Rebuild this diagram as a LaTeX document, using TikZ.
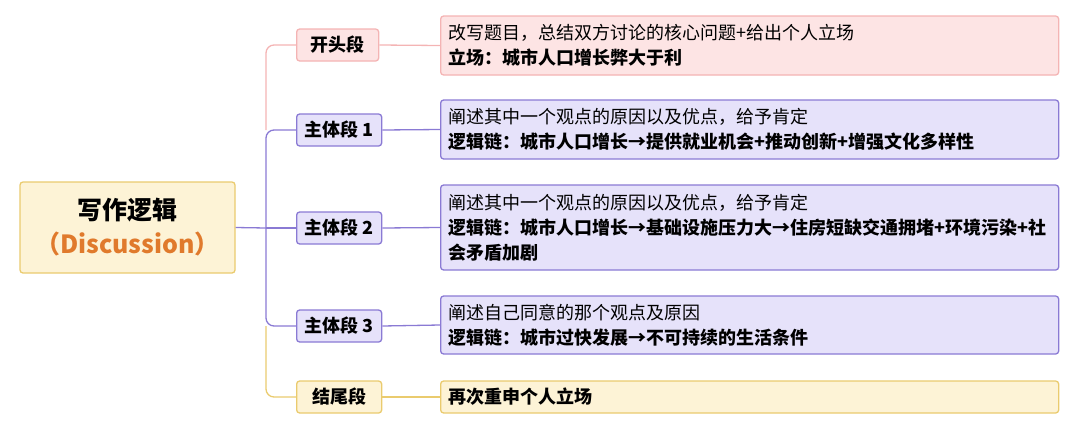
\documentclass[tikz,border=0pt]{standalone}
\usepackage{fontspec}
\setmainfont{Noto Sans CJK SC}
\begin{document}
\begin{tikzpicture}[x=1pt,y=-1pt,
  pinkb/.style={draw=pinkD,fill=pinkL,line width=1.3pt,rounded corners=3pt},
  purpb/.style={draw=purpD,fill=purpL,line width=1.3pt,rounded corners=3pt},
  yelb/.style={draw=yelD,fill=yelL,line width=1.3pt,rounded corners=3pt},
  br/.style={minimum width=85pt,minimum height=32pt,inner sep=0pt,font=\fontsize{18}{20}\selectfont\bfseries,anchor=west},
  ct/.style={inner xsep=8pt,inner ysep=0pt,anchor=west,text width=602pt,align=left,font=\fontsize{18}{25}\selectfont},
  ln/.style={line width=1.3pt,rounded corners=8pt}]
\definecolor{pinkD}{HTML}{F4B4B4}\definecolor{pinkL}{HTML}{FDE4E4}
\definecolor{purpD}{HTML}{8A7AD4}\definecolor{purpL}{HTML}{E6E2FA}
\definecolor{yelD}{HTML}{EACB6E}\definecolor{yelL}{HTML}{FDF3D6}
\definecolor{orgT}{HTML}{E07A2C}
\useasboundingbox (0,0) rectangle (1080,432);
\node[yelb,minimum width=215pt,minimum height=91pt,inner sep=0pt,align=center,font=\fontsize{25}{34}\selectfont\bfseries] (root) at (127.5,227.5) {写作逻辑\\\textcolor{orgT}{（Discussion）}};
\node[pinkb,br,minimum width=82pt] (b1) at (296,45) {开头段};
\node[purpb,br] (b2) at (296,130) {主体段 1};
\node[purpb,br] (b3) at (296,228) {主体段 2};
\node[purpb,br] (b4) at (296,326) {主体段 3};
\node[yelb,br] (b5) at (296,397) {结尾段};
\node[pinkb,ct,minimum height=59pt] (c1) at (440,45.5) {改写题目，总结双方讨论的核心问题+给出个人立场\\\textbf{立场：城市人口增长弊大于利}};
\node[purpb,ct,minimum height=59pt] (c2) at (440,129.5) {阐述其中一个观点的原因以及优点，给予肯定\\\textbf{逻辑链：城市人口增长→提供就业机会+推动创新+增强文化多样性}};
\node[purpb,ct,minimum height=85pt] (c3) at (440,227.5) {阐述其中一个观点的原因以及优点，给予肯定\\\textbf{逻辑链：城市人口增长→基础设施压力大→住房短缺交通拥堵+环境污染+社\\会矛盾加剧}};
\node[purpb,ct,minimum height=58pt] (c4) at (440,325) {阐述自己同意的那个观点及原因\\\textbf{逻辑链：城市过快发展→不可持续的生活条件}};
\node[yelb,ct,minimum height=32pt,font=\fontsize{18}{20}\selectfont\bfseries] (c5) at (440,397) {再次重申个人立场};
\coordinate (t) at (266,228);
\draw[purpD,line width=1.3pt] (root.east) -- (t);
\draw[ln,pinkD] (b1.west) -| (266,130);
\draw[ln,purpD] (b2.west) -| (t);
\draw[ln,purpD] (b4.west) -| (t);
\draw[purpD,line width=1.3pt] (b3.west) -- (t);
\draw[ln,yelD] (b5.west) -| (266,326);
\draw[pinkD,line width=1.3pt] (b1.east) -- (c1.west);
\draw[purpD,line width=1.3pt] (b2.east) -- (c2.west);
\draw[purpD,line width=1.3pt] (b3.east) -- (c3.west);
\draw[purpD,line width=1.3pt] (b4.east) -- (c4.west);
\draw[yelD,line width=1.3pt] (b5.east) -- (c5.west);
\end{tikzpicture}
\end{document}
